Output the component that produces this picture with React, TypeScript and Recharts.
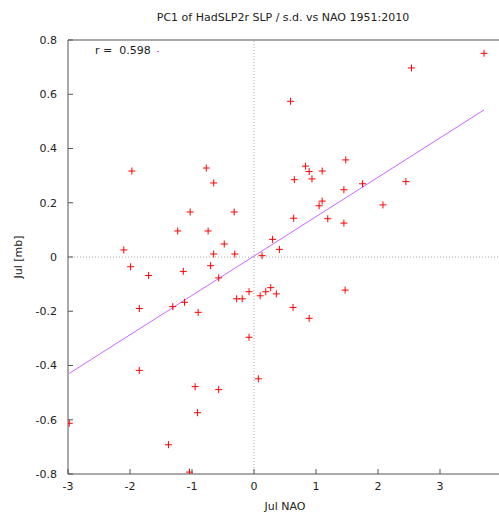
import React from 'react';
import { ScatterChart, Scatter, XAxis, YAxis, ReferenceLine } from 'recharts';

// Jul NAO index vs PC1 of SLP (one point per year, 1951-2010)
const nao = [
  -1.97, -0.77, -0.65, -1.03, -0.32, -1.23, -0.74, -0.48, -2.10, -0.65, -0.31,
  3.71, 2.54, 0.59, 1.48, 0.83, 0.89, 1.10, 0.65, 0.935, 1.75, 2.45, 1.45, 1.10, 1.05, 2.08, 0.64, 1.19, 1.45, 0.30, 0.41, 0.13,
  -1.99, -1.70, -1.14, -0.70, -0.57, -1.85, -1.31, -1.12, -0.90, -0.28, -0.19, -0.08, 0.10, 0.19, 0.27, 0.36,
  -0.08, -1.85, 0.07, -0.95, -0.57, -0.91, -2.98, -1.38, -1.04, 1.47, 0.63, 0.89,
];
const pc1 = [
  0.317, 0.328, 0.273, 0.166, 0.166, 0.096, 0.096, 0.048, 0.026, 0.011, 0.011,
  0.751, 0.697, 0.574, 0.358, 0.335, 0.315, 0.317, 0.285, 0.288, 0.270, 0.278, 0.248, 0.206, 0.189, 0.192, 0.143, 0.141, 0.125, 0.065, 0.028, 0.005,
  -0.036, -0.068, -0.053, -0.032, -0.077, -0.19, -0.183, -0.167, -0.204, -0.154, -0.154, -0.128, -0.143, -0.128, -0.113, -0.136,
  -0.296, -0.418, -0.449, -0.478, -0.489, -0.574, -0.613, -0.692, -0.793, -0.122, -0.186, -0.226,
];
const xTicks = [-3, -2, -1, 0, 1, 2, 3];
const yTicks = [-0.8, -0.6, -0.4, -0.2, 0, 0.2, 0.4, 0.6, 0.8];
const rText = 'r =  0.598';

const points = nao.map((x, i) => ({ x, y: pc1[i] }));

// least squares fit of pc1 on nao
const n = nao.length;
const mx = nao.reduce((a, b) => a + b, 0) / n;
const my = pc1.reduce((a, b) => a + b, 0) / n;
let sxy = 0, sxx = 0;
nao.forEach((x, i) => { sxy += (x - mx) * (pc1[i] - my); sxx += (x - mx) * (x - mx); });
const slope = sxy / sxx;
const icpt = my - slope * mx;
const xMin = Math.min(...nao);
const xMax = Math.max(...nao);

const Plus = (props: any) => {
  const { cx, cy } = props;
  return (
    <path
      d={`M${cx - 3.5},${cy}H${cx + 3.5}M${cx},${cy - 3.5}V${cy + 3.5}`}
      stroke="#ff0000"
      strokeWidth={1}
      fill="none"
    />
  );
};

const fmt = (v: number) => (v === 0 ? '0' : String(Math.round(v * 10) / 10));

export default function App() {
  const axisColor = '#555';
  const tickFont = { fontSize: 11, fill: '#222' };
  return (
    <div
      style={{
        position: 'fixed', left: 0, top: 0, width: 499, height: 514,
        overflow: 'hidden', background: '#fff', fontFamily: '"DejaVu Sans", sans-serif',
      }}
    >
      <div style={{ position: 'absolute', top: 11, left: 0, width: 566, textAlign: 'center', fontSize: 11, color: '#222' }}>
        PC1 of HadSLP2r SLP / s.d. vs NAO 1951:2010
      </div>
      <ScatterChart width={510} height={514} margin={{ top: 39, right: 7, bottom: 0, left: 8 }}>
        <XAxis
          type="number" dataKey="x" domain={[-3, 4]} ticks={xTicks} allowDataOverflow
          height={40} tickSize={-5} tickMargin={13} tick={tickFont}
          stroke={axisColor} tickFormatter={(v) => String(v)}
          label={{ value: 'Jul NAO', position: 'insideBottom', offset: 4, fontSize: 11, fill: '#222' }}
        />
        <XAxis
          xAxisId="top" orientation="top" type="number" domain={[-3, 4]} ticks={xTicks}
          allowDataOverflow height={1} tickSize={-5} tick={false} stroke={axisColor}
        />
        <YAxis
          type="number" dataKey="y" domain={[-0.8, 0.8]} ticks={yTicks} allowDataOverflow
          width={60} tickSize={-5} tickMargin={16} tick={tickFont} stroke={axisColor}
          tickFormatter={fmt}
          label={{ value: 'Jul [mb]', angle: -90, position: 'insideLeft', offset: 10, fontSize: 11, fill: '#222', style: { textAnchor: 'middle' } }}
        />
        <YAxis
          yAxisId="right" orientation="right" type="number" domain={[-0.8, 0.8]} ticks={yTicks}
          allowDataOverflow width={1} tickSize={-5} tick={false} stroke={axisColor}
        />
        <ReferenceLine x={0} stroke="#aaa" strokeDasharray="1 2" />
        <ReferenceLine y={0} stroke="#aaa" strokeDasharray="1 2" />
        <ReferenceLine
          segment={[{ x: xMin, y: icpt + slope * xMin }, { x: xMax, y: icpt + slope * xMax }]}
          stroke="#cc66ff" strokeWidth={1} ifOverflow="hidden"
        />
        <Scatter data={points} shape={Plus} isAnimationActive={false} />
      </ScatterChart>
      <div style={{ position: 'absolute', left: 95, top: 44, fontSize: 11, color: '#222', whiteSpace: 'pre' }}>
        {rText}
      </div>
      <div style={{ position: 'absolute', left: 157, top: 51, width: 2, height: 1, background: '#cc66ff' }} />
    </div>
  );
}
